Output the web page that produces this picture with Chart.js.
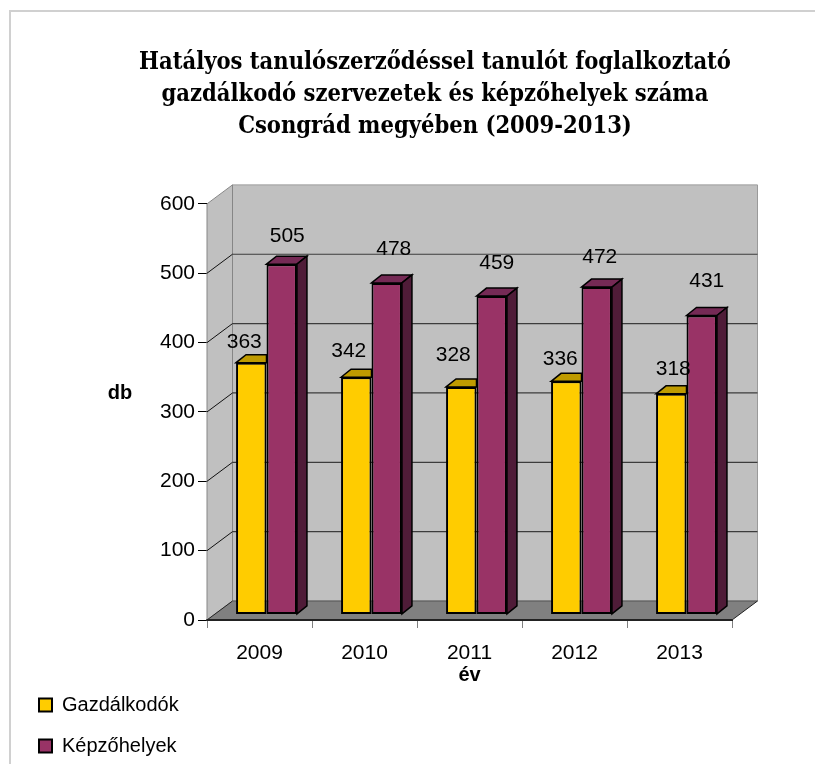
<!DOCTYPE html>
<html>
<head>
<meta charset="utf-8">
<style>
  html, body { margin: 0; padding: 0; background: #fff; }
  #chart { display: block; }
</style>
<script src="https://cdn.jsdelivr.net/npm/chart.js@4"></script>
</head>
<body>
<div style="width:815px;height:764px"><canvas id="chart" width="815" height="764"></canvas></div>
<script>
var years = ["2009", "2010", "2011", "2012", "2013"];
var gazdalkodok = [363, 342, 328, 336, 318];
var kepzohelyek = [505, 478, 459, 472, 431];
var yTicks = [0, 100, 200, 300, 400, 500, 600];
var chartTitle = ["Hatályos tanulószerződéssel tanulót foglalkoztató", "gazdálkodó szervezetek és képzőhelyek száma", "Csongrád megyében (2009-2013)"];

var sansFont = '"Liberation Sans", Arial, sans-serif';

// how far the floor and the bars are pushed back to fake the 3D look
var wallDepth = { x: 25.5, y: -19 };
var barShift = { x: 7, y: -5.6 };
var barDepth = { x: 10, y: -8 };

// hand placed labels, relative to the front top centre of the bar
var labelNudge = [
  [[-7, -20], [-7.5, -26], [-8, -32], [-6, -22], [2, -25]],
  [[5.5, -28], [7, -34], [5, -33], [3, -30], [5, -34]]
];

function poly(ctx, pts, fill, stroke, width) {
  ctx.beginPath();
  pts.forEach(function (p, i) {
    if (i === 0) ctx.moveTo(p[0], p[1]); else ctx.lineTo(p[0], p[1]);
  });
  ctx.closePath();
  if (fill) { ctx.fillStyle = fill; ctx.fill(); }
  if (stroke) { ctx.strokeStyle = stroke; ctx.lineWidth = width; ctx.stroke(); }
}

function line(ctx, x1, y1, x2, y2, color, width) {
  ctx.beginPath();
  ctx.moveTo(x1, y1);
  ctx.lineTo(x2, y2);
  ctx.strokeStyle = color;
  ctx.lineWidth = width;
  ctx.stroke();
}

var plot3d = {
  id: "plot3d",
  afterLayout: function (chart) {
    // title sits right of the canvas centre in the original
    chart.titleBlock.left += 60;
    chart.titleBlock.right += 60;
    // legend goes under the y axis labels, it must not push the plot
    chart.legend.left = 18;
    chart.legend.right = 205;
    chart.legend.bottom += 13;
  },
  beforeDraw: function (chart) {
    var ctx = chart.ctx;
    ctx.save();
    ctx.strokeStyle = "#d0d0d0";
    ctx.lineWidth = 2;
    ctx.beginPath();
    ctx.moveTo(10, 764);
    ctx.lineTo(10, 11);
    ctx.lineTo(815, 11);
    ctx.stroke();
    ctx.restore();
  },
  beforeDatasetsDraw: function (chart) {
    var ctx = chart.ctx;
    var a = chart.chartArea;
    var y = chart.scales.y;
    var dx = wallDepth.x, dy = wallDepth.y;
    ctx.save();
    // back wall, left wall, floor
    poly(ctx, [[a.left + dx, a.top + dy], [a.right + dx, a.top + dy], [a.right + dx, a.bottom + dy], [a.left + dx, a.bottom + dy]], "#c0c0c0", "#9a9a9a", 1);
    poly(ctx, [[a.left, a.top], [a.left + dx, a.top + dy], [a.left + dx, a.bottom + dy], [a.left, a.bottom]], "#c0c0c0", "#868686", 1);
    poly(ctx, [[a.left, a.bottom], [a.left + dx, a.bottom + dy], [a.right + dx, a.bottom + dy], [a.right, a.bottom]], "#808080", null, 0);
    yTicks.forEach(function (t) {
      var py = y.getPixelForValue(t);
      if (t > 0 && t < 600) {
        line(ctx, a.left + dx, py + dy, a.right + dx, py + dy, "#3c3c3c", 1.2);
        line(ctx, a.left, py, a.left + dx, py + dy, "#111", 1);
      }
    });
    line(ctx, a.left + dx, a.bottom + dy, a.right + dx, a.bottom + dy, "#555", 1);
    line(ctx, a.left, a.bottom, a.left + dx, a.bottom + dy, "#222", 1);
    line(ctx, a.right, a.bottom, a.right + dx, a.bottom + dy, "#222", 1);
    line(ctx, a.left, a.bottom, a.right, a.bottom, "#222", 2);
    ctx.restore();
  },
  beforeDatasetDraw: function (chart, args) {
    var ctx = chart.ctx;
    var tops = ["#bf9b00", "#752a55"];
    var sides = [null, "#4f1c38"];
    ctx.save();
    ctx.translate(barShift.x, barShift.y);
    // top and side faces go under the library's own front rectangle.
    // the first series is drawn last, its top stops at the second bar and it shows no side
    chart.getDatasetMeta(args.index).data.forEach(function (bar) {
      var l = bar.x - bar.width / 2, r = bar.x + bar.width / 2;
      var ddx = barDepth.x, ddy = barDepth.y;
      var topEnd = sides[args.index] ? r + ddx : r;
      poly(ctx, [[l, bar.y], [l + ddx, bar.y + ddy], [topEnd, bar.y + ddy], [r, bar.y]], tops[args.index], "#000", 1.5);
      if (sides[args.index]) {
        poly(ctx, [[r, bar.y], [r + ddx, bar.y + ddy], [r + ddx, bar.base + ddy], [r, bar.base]], sides[args.index], "#000", 1.5);
      }
    });
  },
  afterDatasetDraw: function (chart) {
    chart.ctx.restore();
  },
  afterDatasetsDraw: function (chart) {
    var ctx = chart.ctx;
    ctx.save();
    ctx.fillStyle = "#000";
    ctx.textAlign = "center";
    ctx.textBaseline = "middle";
    ctx.font = "21px " + sansFont;
    chart.data.datasets.forEach(function (ds, i) {
      chart.getDatasetMeta(i).data.forEach(function (bar, j) {
        var n = labelNudge[i][j];
        ctx.fillText(ds.data[j], bar.x + barShift.x + n[0], bar.y + barShift.y + n[1]);
      });
    });
    // horizontal y axis name
    ctx.font = "bold 20px " + sansFont;
    ctx.fillText("db", 120, 393);
    ctx.restore();
  }
};

new Chart(document.getElementById("chart"), {
  type: "bar",
  data: {
    labels: years,
    datasets: [
      { label: "Gazdálkodók", data: gazdalkodok, backgroundColor: "#ffcc00", borderColor: "#000", borderWidth: 2, borderSkipped: false },
      { label: "Képzőhelyek", data: kepzohelyek, backgroundColor: "#993366", borderColor: "#000", borderWidth: 2, borderSkipped: false }
    ]
  },
  plugins: [plot3d],
  options: {
    responsive: false,
    animation: false,
    layout: { padding: { left: 18, right: 83, top: 0, bottom: 0 } },
    datasets: { bar: { categoryPercentage: 0.58, barPercentage: 1 } },
    plugins: {
      tooltip: { enabled: false },
      title: {
        display: true,
        text: chartTitle,
        color: "#000",
        font: { family: '"DejaVu Serif Condensed", "DejaVu Serif", serif', size: 23.5, weight: "bold", lineHeight: 1.36 },
        padding: { top: 47, bottom: 61 }
      },
      legend: {
        position: "left",
        align: "end",
        maxWidth: 100,
        labels: { color: "#000", boxWidth: 13, boxHeight: 13, padding: 21, font: { family: sansFont, size: 20 } }
      }
    },
    scales: {
      x: {
        grid: { drawOnChartArea: false, color: "#808080", tickLength: 8 },
        border: { color: "#222", width: 2 },
        ticks: { color: "#000", padding: 13, font: { family: sansFont, size: 21 } },
        title: { display: true, text: "év", color: "#000", padding: { top: 0, bottom: 77 }, font: { family: sansFont, size: 20, weight: "bold" } },
        afterFit: function (scale) { scale.height = 144; }
      },
      y: {
        min: 0,
        max: 600,
        afterBuildTicks: function (scale) { scale.ticks = yTicks.map(function (v) { return { value: v }; }); },
        grid: { drawOnChartArea: false, color: "#000", tickLength: 9 },
        border: { color: "#868686", width: 1 },
        ticks: { color: "#000", padding: 3, font: { family: sansFont, size: 21 } },
        afterFit: function (scale) { scale.width = 207 - 18 - scale.chart.legend.width; }
      }
    }
  }
});
</script>
</body>
</html>
